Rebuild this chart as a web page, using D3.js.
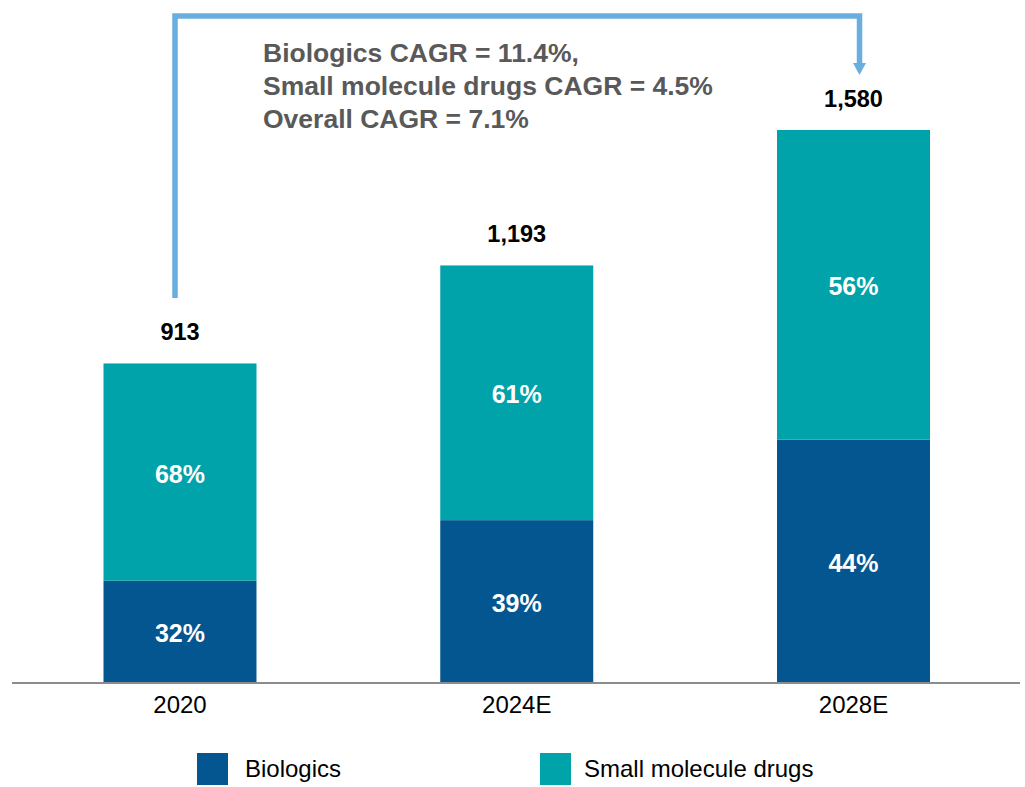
<!DOCTYPE html>
<html>
<head>
<meta charset="utf-8">
<script src="https://cdn.jsdelivr.net/npm/d3@7"></script>
<style>
  body { margin: 0; background: #fff; }
  svg { display: block; font-family: "Liberation Sans", Arial, sans-serif; }
</style>
</head>
<body>
<div id="chart"></div>
<script>
var years = ["2020", "2024E", "2028E"];
var totals = [913, 1193, 1580];
var biologicsShare = [32, 39, 44];
var smallMoleculeShare = [68, 61, 56];
var seriesNames = ["Biologics", "Small molecule drugs"];
var cagrLines = ["Biologics CAGR = 11.4%,", "Small molecule drugs CAGR = 4.5%", "Overall CAGR = 7.1%"];

var width = 1025, height = 787;
var baseY = 683;
var colors = { bio: "#03568f", small: "#00a3aa" };

var svg = d3.select("#chart").append("svg")
    .attr("width", width)
    .attr("height", height);

var x = d3.scaleBand()
    .domain(years)
    .range([11.6, 1021.9])
    .paddingInner(0.5457)
    .paddingOuter(0.2729);

var y = d3.scaleLinear()
    .domain([0, 1600])
    .range([baseY, baseY - 560]);

var data = years.map(function(yr, i) {
    var bio = totals[i] * biologicsShare[i] / 100;
    return { year: yr, total: totals[i], bio: bio, bioPct: biologicsShare[i], smallPct: smallMoleculeShare[i] };
});

// bars
var g = svg.selectAll(".bar").data(data).enter().append("g").attr("class", "bar");

g.append("rect")
    .attr("x", function(d) { return x(d.year); })
    .attr("width", x.bandwidth())
    .attr("y", function(d) { return y(d.bio); })
    .attr("height", function(d) { return baseY - y(d.bio); })
    .attr("fill", colors.bio);

g.append("rect")
    .attr("x", function(d) { return x(d.year); })
    .attr("width", x.bandwidth())
    .attr("y", function(d) { return y(d.total); })
    .attr("height", function(d) { return y(d.bio) - y(d.total); })
    .attr("fill", colors.small);

// percentage labels
g.append("text")
    .attr("x", function(d) { return x(d.year) + x.bandwidth() / 2; })
    .attr("y", function(d) { return (y(d.bio) + baseY) / 2 + 10.5; })
    .attr("text-anchor", "middle")
    .attr("fill", "#fff")
    .style("font-size", "25px")
    .style("font-weight", "bold")
    .text(function(d) { return d.bioPct + "%"; });

g.append("text")
    .attr("x", function(d) { return x(d.year) + x.bandwidth() / 2; })
    .attr("y", function(d) { return (y(d.total) + y(d.bio)) / 2 + 10.5; })
    .attr("text-anchor", "middle")
    .attr("fill", "#fff")
    .style("font-size", "25px")
    .style("font-weight", "bold")
    .text(function(d) { return d.smallPct + "%"; });

// totals
g.append("text")
    .attr("x", function(d) { return x(d.year) + x.bandwidth() / 2; })
    .attr("y", function(d) { return y(d.total) - 23.5; })
    .attr("text-anchor", "middle")
    .attr("fill", "#000")
    .style("font-size", "23.5px")
    .style("font-weight", "bold")
    .text(function(d) { return d3.format(",")(d.total); });

// x axis
var xAxis = svg.append("g")
    .attr("transform", "translate(0," + baseY + ")")
    .call(d3.axisBottom(x).tickSize(0).tickPadding(13));
xAxis.select(".domain").remove();
xAxis.selectAll("text")
    .attr("fill", "#000")
    .style("font-size", "24px")
    .style("font-family", "'Liberation Sans', Arial, sans-serif");
svg.append("line")
    .attr("x1", 12).attr("x2", 1020)
    .attr("y1", baseY).attr("y2", baseY)
    .attr("stroke", "#8c8c8c")
    .attr("stroke-width", 2);

// CAGR arrow
var xl = x(years[0]) + x.bandwidth() / 2 - 5;
var xr = x(years[2]) + x.bandwidth() / 2 + 6;
var arrowColor = "#6aaee0";
svg.append("path")
    .attr("d", "M" + xl + "," + 298 + "V16H" + xr + "V64")
    .attr("fill", "none")
    .attr("stroke", arrowColor)
    .attr("stroke-width", 5.5);
svg.append("path")
    .attr("d", "M" + (xr - 6.5) + ",63L" + (xr + 6.5) + ",63L" + xr + ",75Z")
    .attr("fill", arrowColor);

svg.selectAll(".cagr").data(cagrLines).enter().append("text")
    .attr("class", "cagr")
    .attr("x", 263)
    .attr("y", function(d, i) { return 62 + i * 33; })
    .attr("fill", "#595959")
    .style("font-size", "26.5px")
    .style("font-weight", "bold")
    .text(function(d) { return d; });

// legend
var legendX = [197, 540];
var legendTextX = [48, 44];
var legend = svg.selectAll(".legend").data(seriesNames).enter().append("g")
    .attr("class", "legend")
    .attr("transform", function(d, i) { return "translate(" + legendX[i] + ",753)"; });
legend.append("rect")
    .attr("width", 31).attr("height", 32)
    .attr("fill", function(d, i) { return i === 0 ? colors.bio : colors.small; });
legend.append("text")
    .attr("x", function(d, i) { return legendTextX[i]; })
    .attr("y", 23.5)
    .attr("fill", "#000")
    .style("font-size", "24px")
    .text(function(d) { return d; });
</script>
</body>
</html>
